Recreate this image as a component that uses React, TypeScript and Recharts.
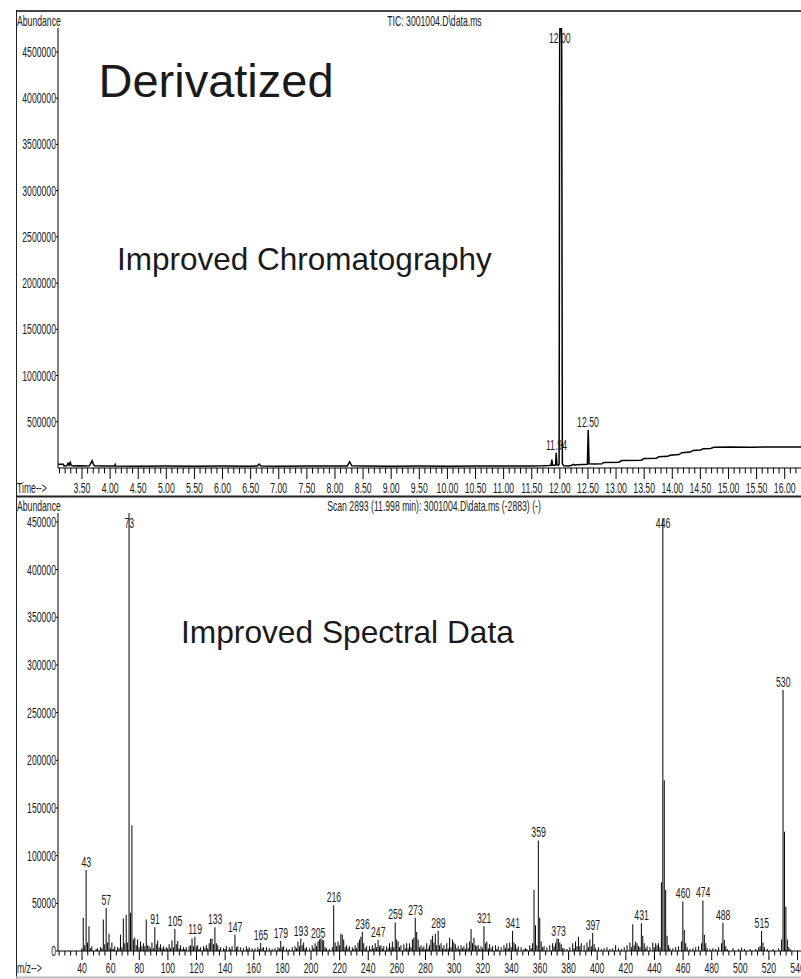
import React from "react";
import { ComposedChart, Line, Bar, Scatter, XAxis, YAxis } from "recharts";

const FONT = '"Liberation Sans", Arial, Helvetica, sans-serif';
const SQUEEZE = 0.62;
const TICK_FS = 14;

// ---------- TIC (top panel) ----------
const ticTrace: [number, number][] = [
  [3.073, 40000], [3.17, 40000], [3.18, 22000], [3.23, 24000], [3.25, 50000], [3.27, 30000],
  [3.29, 62000], [3.31, 26000], [3.36, 22000], [3.45, 24000], [3.55, 21000], [3.63, 23000],
  [3.66, 55000], [3.68, 80000], [3.7, 45000], [3.72, 24000], [3.85, 22000], [4.0, 21000],
  [4.08, 22000], [4.09, 38000], [4.1, 22000], [4.5, 20000], [5.0, 21000], [5.5, 20000],
  [6.0, 21000], [6.5, 20000], [6.62, 22000], [6.65, 42000], [6.68, 22000], [7.0, 20000],
  [7.5, 21000], [8.0, 21000], [8.22, 22000], [8.26, 68000], [8.3, 24000], [8.5, 21000],
  [9.0, 20000], [9.5, 21000], [10.0, 20000], [10.5, 21000], [11.0, 21000], [11.5, 22000],
  [11.7, 23000], [11.8, 26000], [11.845, 28000], [11.858, 90000], [11.87, 30000],
  [11.925, 30000], [11.935, 165000], [11.948, 35000], [11.975, 30000], [11.987, 40000],
  [11.997, 4600000], [12.015, 5200000], [12.033, 4600000], [12.045, 45000], [12.07, 24000],
  [12.15, 22000], [12.2, 28000], [12.24, 40000], [12.27, 30000], [12.3, 36000], [12.4, 38000],
  [12.49, 40000], [12.505, 410000], [12.52, 45000], [12.6, 42000], [12.75, 45000],
  [12.78, 60000], [13.05, 62000], [13.1, 80000], [13.45, 84000], [13.5, 102000],
  [13.72, 106000], [13.76, 122000], [13.92, 126000], [13.96, 138000], [14.12, 145000],
  [14.17, 165000], [14.32, 172000], [14.37, 190000], [14.5, 195000], [14.55, 208000],
  [14.68, 212000], [14.74, 224000], [15.0, 227000], [15.4, 225000], [15.8, 228000],
  [16.29, 226000],
];
const ticPeakMarks: [number, string][] = [
  [11.94, "11.94"],
  [12.0, "12.00"],
  [12.5, "12.50"],
];
const ticYTicks = [500000, 1000000, 1500000, 2000000, 2500000, 3000000, 3500000, 4000000, 4500000];
const timeTickLabels = [
  "3.50", "4.00", "4.50", "5.00", "5.50", "6.00", "6.50", "7.00", "7.50", "8.00", "8.50",
  "9.00", "9.50", "10.00", "10.50", "11.00", "11.50", "12.00", "12.50", "13.00", "13.50",
  "14.00", "14.50", "15.00", "15.50", "16.00",
];
const TIME_DOMAIN: [number, number] = [3.073, 16.29];
const TIC_MAX = 4759000;

// ---------- Mass spectrum (bottom panel) ----------
const spectrumPeaks: [number, number][] = [
  [40, 3000], [41, 35000], [42, 6000], [43, 85000], [44, 9000], [45, 26000], [46, 3000], [47, 5000],
  [50, 2000], [51, 3000], [53, 4000], [54, 3000], [55, 33000], [56, 7000], [57, 45000], [58, 9000],
  [59, 18000], [60, 3000], [61, 9000], [62, 2000], [63, 5000], [65, 4000], [66, 3000], [67, 17000],
  [68, 4000], [69, 34000], [70, 8000], [71, 38000], [72, 9000], [73, 462000], [74, 40000],
  [75, 132000], [76, 12000], [77, 14000], [78, 6000], [79, 12000], [80, 4000], [81, 10000],
  [82, 5000], [83, 8000], [84, 5000], [85, 33000], [86, 6000], [87, 5000], [88, 3000], [89, 9000],
  [90, 3000], [91, 25000], [92, 7000], [93, 11000], [94, 4000], [95, 7000], [96, 3000], [97, 5000],
  [98, 2000], [99, 4000], [100, 3000], [101, 7000], [102, 3000], [103, 11000], [104, 4000],
  [105, 23000], [106, 7000], [107, 10500], [108, 3000], [109, 6000], [110, 2000], [111, 4000],
  [112, 2000], [113, 4000], [115, 5000], [116, 6000], [117, 13000], [118, 5000], [119, 15000],
  [120, 5000], [121, 6000], [122, 2000], [123, 4000], [125, 5000], [126, 3000], [127, 6000],
  [128, 3000], [129, 8000], [130, 12500], [131, 13000], [132, 7000], [133, 25000], [134, 8000],
  [135, 6000], [136, 2000], [137, 4000], [139, 3000], [140, 2000], [141, 5000], [143, 4000],
  [144, 2000], [145, 5000], [147, 17000], [148, 4000], [149, 5000], [151, 4000], [153, 3000],
  [155, 5000], [156, 2000], [157, 4000], [159, 3000], [161, 3000], [163, 4000], [164, 2000],
  [165, 8500], [166, 3000], [167, 4000], [169, 4000], [171, 3000], [173, 2000], [175, 3000],
  [177, 4000], [178, 3000], [179, 10500], [180, 4000], [181, 5000], [183, 3000], [185, 2000],
  [187, 4000], [189, 5000], [190, 3000], [191, 10000], [192, 5000], [193, 13000], [194, 6000],
  [195, 9000], [196, 3000], [197, 4000], [199, 3000], [201, 6000], [202, 3000], [203, 8000],
  [204, 5000], [205, 10000], [206, 12000], [207, 13000], [208, 12000], [209, 11000], [210, 4000],
  [211, 3000], [213, 2000], [215, 4000], [216, 48000], [217, 9000], [218, 5000], [219, 10000],
  [220, 6000], [221, 18000], [222, 17000], [223, 12000], [224, 4000], [225, 6000], [226, 3000],
  [227, 5000], [229, 4000], [230, 2000], [231, 6000], [232, 3000], [233, 9000], [234, 12000],
  [235, 15000], [236, 20000], [237, 8000], [238, 3000], [239, 5000], [241, 5000], [242, 2000],
  [243, 6000], [244, 3000], [245, 8000], [246, 4000], [247, 11500], [248, 5000], [249, 6000],
  [250, 3000], [251, 5000], [253, 5000], [254, 3000], [255, 8000], [256, 4000], [257, 10000],
  [258, 4000], [259, 30000], [260, 12000], [261, 10000], [262, 4000], [263, 6000], [265, 7000],
  [266, 3000], [267, 8000], [268, 3000], [269, 8000], [270, 4000], [271, 12000], [272, 14000],
  [273, 35000], [274, 20000], [275, 12000], [276, 4000], [277, 6000], [278, 3000], [279, 5000],
  [280, 2000], [281, 8000], [282, 3000], [283, 6000], [284, 12000], [285, 16000], [286, 9000],
  [287, 18000], [288, 6000], [289, 21000], [290, 6000], [291, 8000], [292, 3000], [293, 6000],
  [294, 2000], [295, 8000], [296, 3000], [297, 14000], [298, 4000], [299, 12000], [300, 9000],
  [301, 7000], [302, 3000], [303, 5000], [304, 2000], [305, 6000], [306, 3000], [307, 5000],
  [308, 2000], [309, 8000], [310, 3000], [311, 10000], [312, 23000], [313, 8000], [314, 14000],
  [315, 6000], [316, 5000], [317, 6000], [318, 2000], [319, 5000], [320, 3000], [321, 26000],
  [322, 8000], [323, 10000], [324, 3000], [325, 7000], [326, 3000], [327, 5000], [329, 6000],
  [330, 2000], [331, 5000], [333, 4000], [335, 6000], [336, 3000], [337, 8000], [338, 3000],
  [339, 9000], [340, 4000], [341, 21000], [342, 9000], [343, 7000], [344, 3000], [345, 5000],
  [347, 4000], [349, 2000], [350, 3000], [351, 2000], [353, 6000], [354, 3000], [355, 8000],
  [356, 64000], [357, 27000], [358, 6000], [359, 116000], [360, 35000], [361, 10000], [362, 4000],
  [363, 5000], [365, 4000], [367, 6000], [369, 8000], [370, 5000], [371, 8000], [372, 13000],
  [373, 12500], [374, 9000], [375, 7000], [376, 3000], [377, 3000], [379, 2000], [381, 4000],
  [383, 8000], [384, 3000], [385, 10000], [386, 5000], [387, 15000], [388, 5000], [389, 8000],
  [391, 6000], [393, 9000], [394, 4000], [395, 12000], [396, 5000], [397, 19000], [398, 7000],
  [399, 3000], [401, 4000], [403, 2000], [405, 3000], [407, 4000], [409, 2000], [411, 3000],
  [413, 6000], [415, 3000], [417, 2000], [419, 4000], [421, 6000], [423, 9000], [424, 4000],
  [425, 28000], [426, 6000], [427, 10000], [428, 8000], [429, 5000], [430, 4000], [431, 29000],
  [432, 16000], [433, 8000], [434, 3000], [435, 5000], [437, 4000], [439, 9000], [440, 4000],
  [441, 8000], [442, 6000], [443, 8000], [444, 4000], [445, 72000], [446, 454000], [447, 179000],
  [448, 64000], [449, 16000], [450, 6000], [451, 3000], [453, 3000], [455, 4000], [457, 5000],
  [459, 10000], [460, 52000], [461, 22000], [462, 8000], [463, 4000], [465, 2000], [467, 3000],
  [469, 4000], [471, 5000], [473, 8000], [474, 53000], [475, 17000], [476, 8000], [477, 3000],
  [479, 2000], [481, 3000], [483, 2000], [485, 4000], [487, 8000], [488, 29700], [489, 11500],
  [490, 5000], [491, 2000], [495, 3000], [499, 2000], [501, 3500], [503, 2000], [507, 2000],
  [511, 2000], [513, 4000], [514, 5000], [515, 21000], [516, 9000], [517, 4000], [519, 2000],
  [523, 2000], [527, 3000], [529, 12000], [530, 273800], [531, 125000], [532, 46500], [533, 12000],
  [534, 4000], [535, 2000],
];
const spectrumLabelMz = [
  43, 57, 73, 91, 105, 119, 133, 147, 165, 179, 193, 205, 216, 236, 247, 259, 273, 289, 321,
  341, 359, 373, 397, 431, 446, 460, 474, 488, 515, 530,
];
const specYTicks = [0, 50000, 100000, 150000, 200000, 250000, 300000, 350000, 400000, 450000];
const mzTickLabels = [
  "40", "60", "80", "100", "120", "140", "160", "180", "200", "220", "240", "260", "280",
  "300", "320", "340", "360", "380", "400", "420", "440", "460", "480", "500", "520", "540",
];
const MZ_DOMAIN: [number, number] = [23.2, 542.4];
const SPEC_MAX = 459400;

// ---------- derived tables ----------
const ticRows = ticTrace.map(([t, v]) => ({ t, v }));
const ticLabelRows = ticPeakMarks.map(([t, label]) => {
  let v = 0;
  ticTrace.forEach(([tt, vv]) => {
    if (Math.abs(tt - t) <= 0.012 && vv > v) v = vv;
  });
  return { t, v, label };
});
const timeTicks: number[] = [];
for (let i = 31; i <= 162; i++) timeTicks.push(i / 10);

const specRows = spectrumPeaks.map(([mz, v]) => ({ mz, v }));
const specLabelRows = spectrumLabelMz.map((mz) => {
  const hit = spectrumPeaks.find(([m]) => m === mz);
  return { mz, v: hit ? hit[1] : 0, label: String(mz) };
});
const mzTicks: number[] = [];
for (let v = 24; v <= 540; v += 4) mzTicks.push(v);

// ---------- layout ----------
const W = 801;
const TOP_H = 497;
const TOP_MARGIN_T = 28;
const BOT_H = 482;
const BOT_MARGIN_T = 16;

const NarrowText = ({ x, y, anchor, children, fs = TICK_FS, fill = "#1a1a1a" }: any) => (
  <text
    transform={`translate(${x},${y}) scale(${SQUEEZE},1)`}
    textAnchor={anchor}
    fontSize={fs}
    fontFamily={FONT}
    fill={fill}
  >
    {children}
  </text>
);

const YTick = (p: any) => (
  <NarrowText x={p.x} y={p.y + 5} anchor="end">
    {String(p.payload.value)}
  </NarrowText>
);

const TimeTick = (p: any) => {
  const v = p.payload.value;
  const label = timeTickLabels.find((s) => Math.abs(parseFloat(s) - v) < 1e-6);
  const len = label ? 11 : 5.5;
  return (
    <g>
      <line x1={p.x} x2={p.x} y1={p.y} y2={p.y + len} stroke="#000" strokeWidth={1} />
      {label ? (
        <NarrowText x={p.x} y={p.y + 25} anchor="middle">
          {label}
        </NarrowText>
      ) : null}
    </g>
  );
};

const MzTick = (p: any) => {
  const v = p.payload.value;
  const label = mzTickLabels.find((s) => Math.abs(parseFloat(s) - v) < 1e-6);
  const len = label ? 9 : 4.5;
  return (
    <g>
      <line x1={p.x} x2={p.x} y1={p.y} y2={p.y + len} stroke="#000" strokeWidth={1} />
      {label ? (
        <NarrowText x={p.x} y={p.y + 22} anchor="middle">
          {label}
        </NarrowText>
      ) : null}
    </g>
  );
};

const makePeakLabel = (plotTop: number) => (p: any) => {
  const { cx, cy, payload } = p;
  if (cx == null || cy == null || !payload) return <g />;
  const y = Math.max(cy - 3, plotTop + 15);
  return (
    <NarrowText x={cx} y={y} anchor="middle">
      {payload.label}
    </NarrowText>
  );
};

export default function App() {
  return (
    <div
      style={{
        position: "absolute",
        left: 0,
        top: 0,
        width: W,
        height: 979,
        overflow: "hidden",
        background: "#fff",
        fontFamily: FONT,
      }}
    >
      <div style={{ position: "absolute", left: 0, top: 0 }}>
        <ComposedChart
          width={W}
          height={TOP_H}
          data={ticRows}
          margin={{ top: TOP_MARGIN_T, right: 0, bottom: 0, left: 0 }}
        >
          <XAxis
            type="number"
            dataKey="t"
            domain={TIME_DOMAIN}
            allowDataOverflow
            ticks={timeTicks}
            interval={0}
            height={29}
            tickSize={0}
            tickMargin={0}
            tickLine={false}
            axisLine={{ stroke: "#000", strokeWidth: 1 }}
            tick={TimeTick}
          />
          <YAxis
            type="number"
            domain={[0, TIC_MAX]}
            allowDataOverflow
            ticks={ticYTicks}
            interval={0}
            width={58}
            tickSize={2}
            tickMargin={0}
            axisLine={{ stroke: "#000", strokeWidth: 1 }}
            tickLine={{ stroke: "#000", strokeWidth: 1 }}
            tick={YTick}
          />
          <Line
            dataKey="v"
            type="linear"
            dot={false}
            stroke="#000"
            strokeWidth={1.5}
            isAnimationActive={false}
          />
          <Scatter
            data={ticLabelRows}
            dataKey="v"
            shape={makePeakLabel(TOP_MARGIN_T)}
            isAnimationActive={false}
          />
        </ComposedChart>
      </div>

      <div style={{ position: "absolute", left: 0, top: TOP_H }}>
        <ComposedChart
          width={W}
          height={BOT_H}
          data={specRows}
          margin={{ top: BOT_MARGIN_T, right: 0, bottom: 0, left: 0 }}
        >
          <XAxis
            type="number"
            dataKey="mz"
            domain={MZ_DOMAIN}
            allowDataOverflow
            ticks={mzTicks}
            interval={0}
            height={28}
            tickSize={0}
            tickMargin={0}
            tickLine={false}
            axisLine={{ stroke: "#000", strokeWidth: 1 }}
            tick={MzTick}
          />
          <YAxis
            type="number"
            domain={[0, SPEC_MAX]}
            allowDataOverflow
            ticks={specYTicks}
            interval={0}
            width={58}
            tickSize={2}
            tickMargin={0}
            axisLine={{ stroke: "#000", strokeWidth: 1 }}
            tickLine={{ stroke: "#000", strokeWidth: 1 }}
            tick={YTick}
          />
          <Bar dataKey="v" fill="#000" barSize={1} isAnimationActive={false} />
          <Scatter
            data={specLabelRows}
            dataKey="v"
            shape={makePeakLabel(BOT_MARGIN_T)}
            isAnimationActive={false}
          />
        </ComposedChart>
      </div>

      <svg
        width={W}
        height={979}
        style={{ position: "absolute", left: 0, top: 0, pointerEvents: "none" }}
      >
        <line x1={16} x2={W} y1={11} y2={11} stroke="#444" strokeWidth={2} />
        <line x1={16.5} x2={16.5} y1={10} y2={979} stroke="#222" strokeWidth={1} />
        <line x1={16} x2={W} y1={496.5} y2={496.5} stroke="#222" strokeWidth={2} />
        <line x1={16} x2={W} y1={977.5} y2={977.5} stroke="#bbb" strokeWidth={2} />

        <NarrowText x={17} y={26} anchor="start">Abundance</NarrowText>
        <NarrowText x={434.5} y={26} anchor="middle">TIC: 3001004.D\data.ms</NarrowText>
        <NarrowText x={17} y={493} anchor="start">Time--&gt;</NarrowText>
        <NarrowText x={17} y={510.5} anchor="start">Abundance</NarrowText>
        <NarrowText x={434} y={511} anchor="middle">
          Scan 2893 (11.998 min): 3001004.D\data.ms (-2883) (-)
        </NarrowText>
        <NarrowText x={17} y={973} anchor="start">m/z--&gt;</NarrowText>

        <text x={98.5} y={97} fontSize={47} fontFamily={FONT} fill="#1a1a1a">
          Derivatized
        </text>
        <text x={117} y={270} fontSize={31.5} fontFamily={FONT} fill="#1a1a1a">
          Improved Chromatography
        </text>
        <text x={181} y={643} fontSize={31.7} fontFamily={FONT} fill="#1a1a1a">
          Improved Spectral Data
        </text>
      </svg>
    </div>
  );
}
